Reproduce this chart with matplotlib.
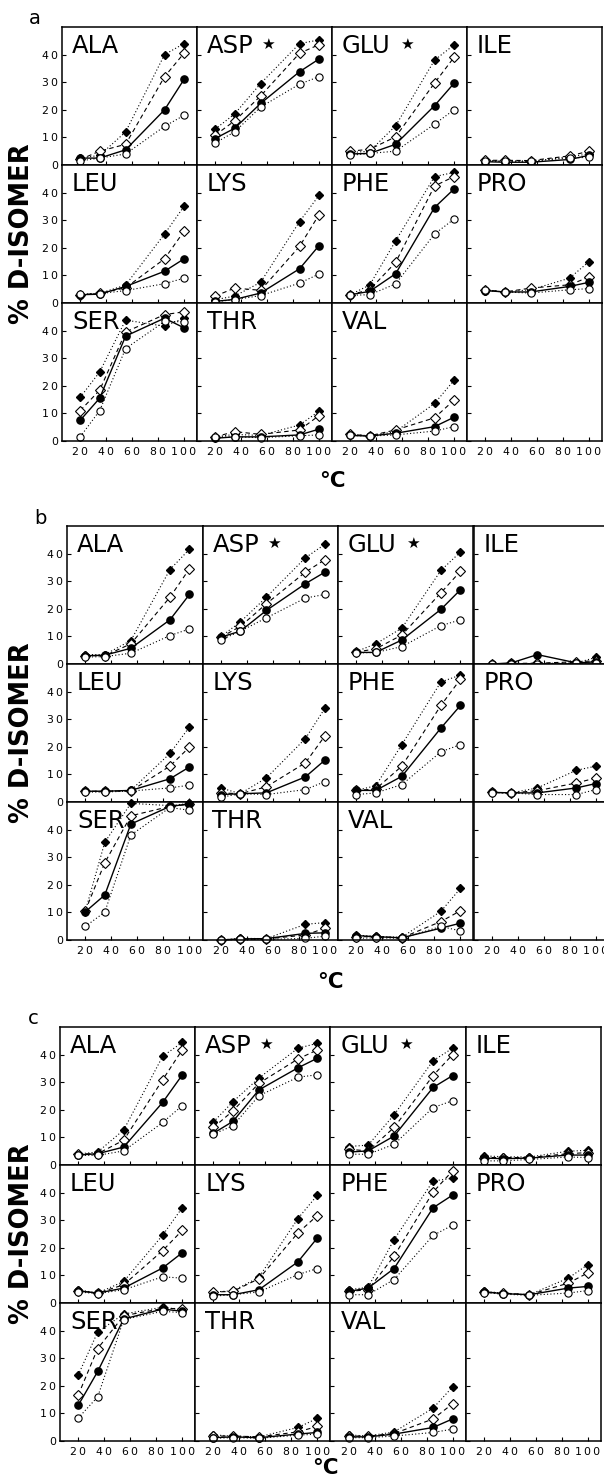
import matplotlib
matplotlib.use("Agg")
import matplotlib.pyplot as plt

plt.rcParams["font.family"] = ["DejaVu Sans"]

# temperatures (degC) of the five heating steps
temps = [20, 35, 55, 85, 100]
acids = ["ALA", "ASP", "GLU", "ILE", "LEU", "LYS", "PHE", "PRO", "SER", "THR", "VAL"]
starred = ["ASP", "GLU"]
xticks = [20, 40, 60, 80, 100]
yticks = [0, 10, 20, 30, 40]

# % D-isomer, one row per amino acid (order of `acids`)
# fd = filled diamond, od = open diamond, fc = filled circle, oc = open circle
a_fd = [[2.5, 3.5, 12, 40, 44], [13, 18.5, 29.5, 44, 45.3], [4.5, 5, 14.2, 38, 43.5],
        [1.5, 1.2, 1.2, 3, 4], [3, 3.5, 6.5, 25, 35], [1.2, 2.5, 7.5, 29.5, 39],
        [3, 6.5, 22.5, 45.8, 47.3], [4.5, 4, 4.8, 9, 15], [15.8, 25, 43.8, 41.6, 44.5],
        [1.5, 2.4, 2, 5.8, 10.8], [2.4, 1.9, 3.4, 13.6, 22]]
a_od = [[2, 5, 7.5, 32, 40.5], [10.8, 16, 25, 40.5, 43.6], [5, 5.7, 10.2, 29.7, 39],
        [1.7, 1.7, 1.6, 3.3, 5], [3, 3.5, 5.5, 16, 26], [2.5, 5.4, 4.6, 20.5, 32],
        [3, 4.8, 14.7, 42.4, 45.8], [4.8, 4, 5.4, 6.6, 9.4], [11, 18.4, 39.5, 45.8, 46.8],
        [1.5, 3.4, 2.4, 4, 9.2], [2.4, 1.9, 4, 8.4, 14.8]]
a_fc = [[2.5, 2.5, 5.5, 20, 31], [9.6, 13.3, 22.3, 33.8, 38.4], [4, 4.2, 7.5, 21.5, 29.6],
        [1.2, 1, 1, 2, 3.5], [3, 3.2, 6, 11.5, 16], [0.6, 1.3, 3.6, 12.4, 20.8],
        [3, 4.2, 10.6, 34.6, 41.3], [4.5, 4, 4, 6, 7.5], [7.5, 15.5, 38, 44.5, 41],
        [1, 1.5, 1.5, 2.2, 4.3], [2, 1.8, 2.8, 5.2, 8.6]]
a_oc = [[1.5, 2.5, 4, 14, 18], [8, 12, 21, 29.3, 32], [3.5, 4.2, 5, 14.8, 20],
        [1.5, 1.5, 1.5, 2.5, 2.8], [3.2, 3.4, 4.5, 7, 9], [0.5, 1.2, 2.7, 7.2, 10.5],
        [2.8, 3, 6.9, 25, 30.4], [4.8, 4, 3.6, 4.8, 5.2], [1.5, 11, 33.5, 43.3, 43.2],
        [1.5, 1.5, 1.2, 1.9, 2.2], [2, 1.8, 2.2, 3.6, 5.2]]

b_fd = [[3.4, 3.4, 8.5, 34.2, 41.6], [9.9, 15.2, 24.2, 38.5, 43.4], [4.5, 7.3, 13, 33.9, 40.6],
        [0, 0, 0.2, 0.4, 2.4], [3.9, 3.9, 4.2, 17.6, 27.2], [5.1, 3, 8.7, 23, 34],
        [4.2, 5.9, 20.8, 43.5, 46], [3.5, 3.3, 5.1, 11.5, 13], [10.4, 35.4, 49.5, 48.7, 49.5],
        [0, 0.6, 0.5, 5.7, 6.3], [1.8, 1.3, 1, 10.4, 18.7]]
b_od = [[3, 3, 7.3, 24.2, 34.5], [9.7, 13.6, 21.8, 33.3, 37.8], [4.3, 5.5, 10.5, 25.8, 33.6],
        [0, 0.2, 0.3, 0.8, 1.2], [3.9, 3.9, 4, 13, 19.9], [3.3, 3, 5.5, 14.2, 24],
        [4.2, 4.7, 13, 35, 44.5], [3.5, 3.3, 4.1, 6.9, 8.7], [10.5, 28, 45, 48.4, 49.2],
        [0, 0.3, 0.4, 1.8, 4.3], [1.2, 1.2, 0.8, 6.7, 10.6]]
b_fc = [[3, 3.2, 5.7, 16, 25.2], [9.7, 11.9, 19.4, 29.1, 33.3], [4.2, 4.2, 8.7, 19.8, 26.9],
        [0, 0.4, 3.4, 0.4, 0.8], [3.9, 3.9, 4.2, 8.4, 12.7], [2.7, 3, 3.3, 9.1, 15.2],
        [4.2, 4.2, 9.3, 26.8, 35], [3.5, 3.3, 3.3, 5.1, 6.7], [10.2, 16.3, 42, 48.4, 49.3],
        [0, 0.4, 0.5, 2.4, 2.6], [1.6, 1.2, 0.8, 4.3, 6.1]]
b_oc = [[2.5, 2.7, 3.9, 10.3, 12.7], [8.7, 11.9, 16.7, 23.9, 25.2], [4, 4.2, 6.3, 13.9, 16],
        [0, 0, 0, 0.2, 0.5], [3.6, 3.6, 4, 5.1, 6.1], [1.7, 3, 2.7, 4.5, 7.4],
        [2.7, 3.3, 6.3, 18.2, 20.8], [3.3, 3.3, 2.7, 2.7, 4.5], [4.9, 10.1, 38, 48, 47],
        [0, 0.2, 0.2, 0.6, 1.4], [0.6, 0.8, 0.6, 4.9, 3.3]]

c_fd = [[4, 4.7, 12.7, 39.4, 44.4], [15.6, 22.9, 31.5, 42.3, 44.1], [6.7, 7.2, 18.2, 37.8, 42.3],
        [3.3, 3, 2.9, 5, 5.3], [4.8, 3.6, 7.8, 24.6, 34.5], [4, 4.4, 9.3, 30.6, 39.1],
        [4.8, 5.7, 23, 44.2, 45.2], [4.2, 3.6, 3, 9, 13.9], [23.9, 39.5, 46, 48.5, 47.5],
        [2.2, 1.8, 1.5, 4.9, 8.2], [2.2, 1.8, 3.3, 11.9, 19.6]]
c_od = [[4, 4.1, 9, 30.9, 41.7], [13.6, 19.6, 29.6, 38.4, 41.7], [5.7, 5.1, 13.6, 32.4, 40],
        [2.7, 2.7, 2.7, 4.1, 4.5], [4.4, 3.6, 6.6, 19, 26.3], [4, 4.2, 8.8, 25.4, 31.7],
        [4.2, 4.8, 17, 40.2, 47.9], [4, 3.6, 3, 7.2, 10.9], [16.6, 33.5, 45.4, 48, 48],
        [1.8, 1.8, 1.5, 3.3, 5.3], [1.8, 1.8, 2.7, 8, 13.5]]
c_fc = [[3.6, 4.1, 6.5, 22.7, 32.6], [11.5, 15.8, 27.2, 35.2, 38.7], [4.7, 5.1, 10.5, 28.1, 32.4],
        [2.5, 2.3, 2.5, 3.6, 3.6], [4.4, 3.6, 5.4, 12.7, 18.2], [3, 3, 4.8, 14.9, 23.6],
        [4.2, 5.4, 12.5, 34.5, 39.1], [4, 3.4, 3, 5.4, 6], [12.9, 25.2, 44.2, 47.8, 47],
        [1.2, 1.5, 1.2, 2.5, 3.1], [1.5, 1.5, 2.5, 4.9, 8]]
c_oc = [[3.5, 3.5, 5.1, 15.4, 21.5], [11.2, 14.2, 25.1, 31.8, 32.7], [3.9, 3.9, 7.5, 20.8, 23.3],
        [1.5, 1.5, 2, 2.9, 2.7], [4, 3.4, 4.8, 9.5, 9.0], [2.5, 3, 4, 10.3, 12.5],
        [3, 3, 8.5, 24.5, 28.2], [3.8, 3.2, 2.8, 3.6, 4.5], [8.3, 16, 44, 47, 46.5],
        [1, 1.2, 1, 2.1, 2.5], [1.2, 1.2, 1.8, 3.1, 4.3]]

W, H = 604, 1480
fig = plt.figure(figsize=(W / 100, H / 100), dpi=100)

# line / marker style of the four series
styles = [
    dict(marker="D", ms=4.2, mfc="black", mec="black", ls=(0, (1, 2)), lw=0.8),
    dict(marker="D", ms=4.6, mfc="white", mec="black", mew=0.8, ls=(0, (4, 3)), lw=0.8),
    dict(marker="o", ms=5.2, mfc="black", mec="black", ls="-", lw=1.0),
    dict(marker="o", ms=5.2, mfc="white", mec="black", mew=0.8, ls=(0, (1, 2)), lw=0.8),
]


def spaced(v):
    # the original tick labels are letter spaced
    return "\u2009".join(str(v))


def draw_panel(series, letter, left, top, colw=135.0, rowh=138.0, deg_dx=0, deg_dy=40):
    for r in range(3):
        for c in range(4):
            x0 = left + c * colw
            y0 = top + r * rowh
            ax = fig.add_axes([x0 / W, 1 - (y0 + rowh) / H, colw / W, rowh / H])
            ax.set_xlim(6, 110)
            ax.set_ylim(0, 50)
            ax.set_xticks(xticks)
            ax.set_yticks(yticks)
            ax.set_xticklabels([spaced(v) for v in xticks])
            ax.set_yticklabels([spaced(v) for v in yticks])
            ax.tick_params(direction="in", length=3, width=0.8, labelsize=7.8)
            ax.tick_params(axis="y", pad=3)
            ax.tick_params(axis="x", pad=4)
            ax.tick_params(labelleft=(c == 0), labelbottom=(r == 2))
            for sp in ax.spines.values():
                sp.set_linewidth(1.1)
            i = r * 4 + c
            if i >= len(acids):
                continue
            for vals, st in zip(series, styles):
                ax.plot(temps, vals[i], color="black", clip_on=False, **st)
            ax.text(10 / colw, 1 - 26 / rowh, acids[i], transform=ax.transAxes,
                    fontsize=17.5, va="baseline", ha="left")
            if acids[i] in starred:
                sx = 71 if acids[i] == "ASP" else 75
                ax.text(sx / colw, 1 - 17 / rowh, "\u2605", transform=ax.transAxes,
                        fontsize=11, va="center", ha="center")
    mid = top + 1.5 * rowh
    fig.text(22 / W, 1 - mid / H, "% D-ISOMER", rotation=90, fontsize=18.5,
             fontweight="bold", ha="center", va="center")
    fig.text((left + 2 * colw + deg_dx) / W, 1 - (top + 3 * rowh + deg_dy) / H, "°C",
             fontsize=15.5, fontweight="bold", ha="center", va="center")
    fig.text((left - 27) / W, 1 - (top - 8) / H, letter, fontsize=14,
             ha="center", va="center")


draw_panel([a_fd, a_od, a_fc, a_oc], "a", 62, 27, deg_dx=0, deg_dy=40)
draw_panel([b_fd, b_od, b_fc, b_oc], "b", 67, 526, colw=135.5, deg_dx=-8, deg_dy=42)
draw_panel([c_fd, c_od, c_fc, c_oc], "c", 60, 1027, colw=135.2, deg_dx=-5, deg_dy=27)

fig.savefig("out.png", dpi=100)
